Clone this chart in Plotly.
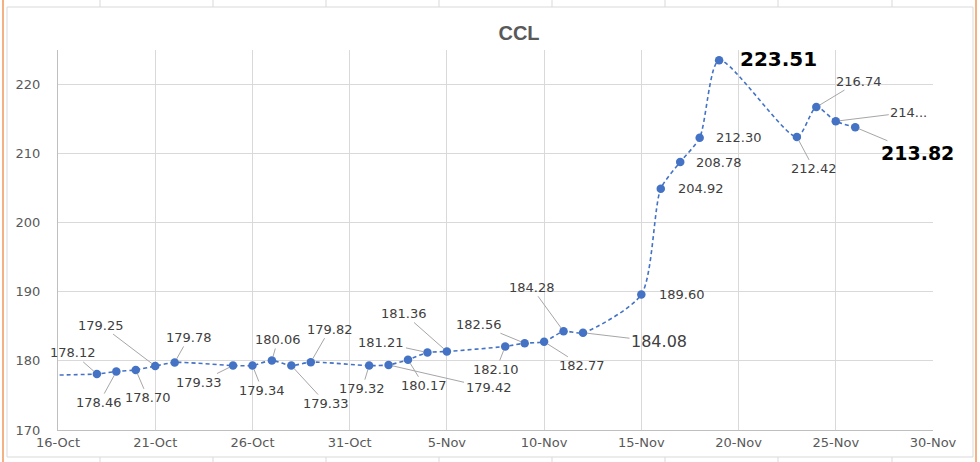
import plotly.graph_objects as go

# ---- data ----
dates = ["2021-10-15", "2021-10-18", "2021-10-19", "2021-10-20", "2021-10-21", "2021-10-22",
         "2021-10-25", "2021-10-26", "2021-10-27", "2021-10-28", "2021-10-29",
         "2021-11-01", "2021-11-02", "2021-11-03", "2021-11-04", "2021-11-05",
         "2021-11-08", "2021-11-09", "2021-11-10", "2021-11-11", "2021-11-12",
         "2021-11-15", "2021-11-16", "2021-11-17", "2021-11-18", "2021-11-19",
         "2021-11-23", "2021-11-24", "2021-11-25", "2021-11-26"]
values = [177.90, 178.12, 178.46, 178.70, 179.25, 179.78,
          179.33, 179.34, 180.06, 179.33, 179.82,
          179.32, 179.42, 180.17, 181.21, 181.36,
          182.10, 182.56, 182.77, 184.28, 184.08,
          189.60, 204.92, 208.78, 212.30, 223.51,
          212.42, 216.74, 214.69, 213.82]
labels = [None, "178.12", "178.46", "178.70", "179.25", "179.78",
          "179.33", "179.34", "180.06", "179.33", "179.82",
          "179.32", "179.42", "180.17", "181.21", "181.36",
          "182.10", "182.56", "182.77", "184.28", "184.08",
          "189.60", "204.92", "208.78", "212.30", "223.51",
          "212.42", "216.74", "214...", "213.82"]
x_ticks = ["2021-10-16", "2021-10-21", "2021-10-26", "2021-10-31", "2021-11-05",
           "2021-11-10", "2021-11-15", "2021-11-20", "2021-11-25", "2021-11-30"]
x_ticktext = ["16-Oct", "21-Oct", "26-Oct", "31-Oct", "5-Nov",
              "10-Nov", "15-Nov", "20-Nov", "25-Nov", "30-Nov"]
y_ticks = [170, 180, 190, 200, 210, 220]

# ---- label placement (pixel offsets, style) ----
# (ax, ay, leader, font size, bold)
placement = {
    1: (-24, -21, True, 13, False),
    2: (-17, 31, True, 13, False),
    3: (12, 28, True, 13, False),
    4: (-54, -41, True, 13, False),
    5: (14, -25, True, 13, False),
    6: (-34, 17, True, 13, False),
    7: (10, 25, True, 13, False),
    8: (6, -21, True, 13, False),
    9: (35, 38, True, 13, False),
    10: (19, -33, True, 13, False),
    11: (-7, 23, True, 13, False),
    12: (100, 23, True, 13, False),
    13: (16, 26, True, 13, False),
    14: (-46, -10, True, 13, False),
    15: (-43, -38, True, 13, False),
    16: (-9, 23, True, 13, False),
    17: (-46, -19, True, 13, False),
    18: (38, 24, True, 13, False),
    19: (-32, -44, True, 13, False),
    20: (76, 9, True, 16, False),
    21: (41, 0, False, 13, False),
    22: (40, 0, False, 13, False),
    23: (39, 0, False, 13, False),
    24: (39, 0, False, 13, False),
    25: (59, -1, False, 20, True),
    26: (17, 32, True, 13, False),
    27: (43, -26, True, 13, False),
    28: (73, -9, True, 13, False),
    29: (62, 26, True, 19, True),
}

LINE_COLOR = "#4472C4"
GRID = "#D9D9D9"
TICK_COLOR = "#595959"
LABEL_COLOR = "#404040"
LEADER = "#A6A6A6"

fig = go.Figure()
fig.add_trace(go.Scatter(
    x=dates, y=values, mode="lines+markers",
    line=dict(color=LINE_COLOR, width=1.6, dash="4px,3px", shape="spline", smoothing=0.7),
    marker=dict(color=LINE_COLOR, size=8.5),
    cliponaxis=True, hoverinfo="x+y", showlegend=False,
))

annotations = []
for i, lab in enumerate(labels):
    if lab is None:
        continue
    ax, ay, leader, fs, bold = placement[i]
    txt = "<b>%s</b>" % lab if bold else lab
    col = "#000000" if bold else LABEL_COLOR
    if leader:
        annotations.append(dict(
            x=dates[i], y=values[i], xref="x", yref="y", text=txt,
            showarrow=True, ax=ax, ay=ay, axref="pixel", ayref="pixel",
            arrowhead=0, arrowwidth=1, arrowcolor=LEADER, standoff=4,
            font=dict(family="DejaVu Sans", size=fs, color=col),
        ))
    else:
        annotations.append(dict(
            x=dates[i], y=values[i], xref="x", yref="y", text=txt,
            showarrow=False, xshift=ax, yshift=-ay,
            font=dict(family="DejaVu Sans", size=fs, color=col),
        ))

# ---- frame decorations (Excel sheet look) ----
L, R, T, B = 58, 47, 50, 32
W, H = 980, 462
pw, ph = W - L - R, H - T - B


def px(xp):
    return (xp - L) / pw


def py(yp):
    return (H - B - yp) / ph


shapes = [
    dict(type="rect", xref="paper", yref="paper", x0=px(7), x1=px(973), y0=py(457), y1=py(7),
         line=dict(color="#D9D9D9", width=1), layer="below"),
    dict(type="line", xref="paper", yref="paper", x0=px(3), x1=px(3), y0=py(462), y1=py(0),
         line=dict(color="#F4B183", width=2)),
    dict(type="line", xref="paper", yref="paper", x0=px(976), x1=px(976), y0=py(462), y1=py(0),
         line=dict(color="#F4B183", width=2)),
]
for cx in [100, 213, 326, 439, 552, 665, 778, 892]:
    shapes.append(dict(type="line", xref="paper", yref="paper", x0=px(cx), x1=px(cx),
                       y0=py(7), y1=py(0), line=dict(color="#D9D9D9", width=1)))
    shapes.append(dict(type="line", xref="paper", yref="paper", x0=px(cx), x1=px(cx),
                       y0=py(462), y1=py(457), line=dict(color="#D9D9D9", width=1)))

fig.update_layout(
    width=W, height=H,
    margin=dict(l=L, r=R, t=T, b=B, pad=0),
    paper_bgcolor="white", plot_bgcolor="white",
    title=dict(text="<b>CCL</b>", x=px(519), xref="paper", xanchor="center",
               y=1 - 33 / H, yref="container", yanchor="middle",
               font=dict(family="Liberation Sans", size=20, color=TICK_COLOR)),
    xaxis=dict(
        type="date", range=["2021-10-16", "2021-11-30"],
        tickmode="array", tickvals=x_ticks, ticktext=x_ticktext,
        showgrid=True, gridcolor=GRID, gridwidth=1,
        showline=True, linecolor="#BFBFBF", linewidth=1,
        ticks="", zeroline=False,
        tickfont=dict(family="DejaVu Sans", size=13, color=TICK_COLOR),
    ),
    yaxis=dict(
        range=[170, 225], tickmode="array", tickvals=y_ticks,
        showgrid=True, gridcolor=GRID, gridwidth=1,
        showline=True, linecolor="#BFBFBF", linewidth=1,
        ticks="", zeroline=False, ticklabelstandoff=14,
        tickfont=dict(family="DejaVu Sans", size=13, color=TICK_COLOR),
    ),
    annotations=annotations,
    shapes=shapes,
)

fig.write_html("out.html")
